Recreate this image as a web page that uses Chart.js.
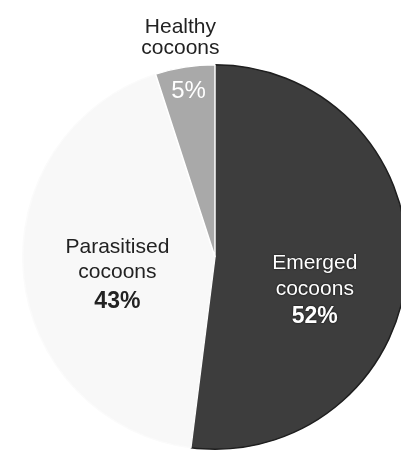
<!DOCTYPE html>
<html lang="en">
<head>
    <meta charset="UTF-8">
    <title>Cocoon fate</title>
    <script src="https://cdn.jsdelivr.net/npm/chart.js"></script>
    <style>
        html, body { margin: 0; padding: 0; background: #fff; overflow: hidden; width: 401px; height: 450px; }
        #wrap { position: absolute; left: 0; top: 0; width: 430px; height: 460px; }
    </style>
</head>
<body>
    <div id="wrap"><canvas id="chart" width="430" height="460"></canvas></div>
    <script>
        // data
        const categories = ['Emerged cocoons', 'Parasitised cocoons', 'Healthy cocoons'];
        const nameLines = [['Emerged', 'cocoons'], ['Parasitised', 'cocoons'], ['Healthy', 'cocoons']];
        const percents = [52, 43, 5];

        const sliceColors = ['#3d3d3d', '#f8f8f8', '#a9a9a9'];
        const sliceBorders = ['#1e1e1e', '#fbfbfb', '#ffffff'];

        // where each label sits: k = fraction of radius along the slice middle, dy = first baseline offset
        const labelLayout = [
            { k: 0.52, dy: 6, gap: 26, pctGap: 28, inside: true, color: '#ffffff' },
            { k: 0.51, dy: -13, gap: 25, pctGap: 30, inside: true, color: '#222222' },
            { k: 1.15, dy: -6, gap: 21, pctK: 0.88, pctDy: 8, inside: false, color: '#222222' }
        ];

        const labelPlugin = {
            id: 'sliceLabels',
            afterDatasetsDraw(chart) {
                const ctx = chart.ctx;
                const arcs = chart.getDatasetMeta(0).data;
                ctx.save();
                ctx.textAlign = 'center';
                ctx.textBaseline = 'alphabetic';
                arcs.forEach((arc, i) => {
                    const p = arc.getProps(['x', 'y', 'startAngle', 'endAngle', 'outerRadius'], true);
                    const mid = (p.startAngle + p.endAngle) / 2;
                    const L = labelLayout[i];
                    const ax = p.x + Math.cos(mid) * p.outerRadius * L.k;
                    const ay = p.y + Math.sin(mid) * p.outerRadius * L.k;
                    const pct = percents[i] + '%';
                    if (L.color === '#ffffff') {
                        ctx.shadowColor = 'rgba(0,0,0,0.9)';
                        ctx.shadowBlur = 2;
                    } else {
                        ctx.shadowColor = 'transparent';
                        ctx.shadowBlur = 0;
                    }
                    ctx.fillStyle = L.color;
                    ctx.font = '21px "Liberation Sans", Arial, sans-serif';
                    nameLines[i].forEach((t, j) => {
                        ctx.fillText(t, ax, ay + L.dy + j * L.gap);
                    });
                    if (L.inside) {
                        ctx.font = 'bold 23px "Liberation Sans", Arial, sans-serif';
                        ctx.fillText(pct, ax, ay + L.dy + L.gap + L.pctGap);
                    } else {
                        const px = p.x + Math.cos(mid) * p.outerRadius * L.pctK;
                        const py = p.y + Math.sin(mid) * p.outerRadius * L.pctK;
                        ctx.fillStyle = '#ffffff';
                        ctx.shadowColor = 'transparent';
                        ctx.font = '24px "Liberation Sans", Arial, sans-serif';
                        ctx.fillText(pct, px, py + L.pctDy);
                    }
                });
                ctx.restore();
            }
        };

        new Chart(document.getElementById('chart').getContext('2d'), {
            type: 'pie',
            data: {
                labels: categories,
                datasets: [{
                    data: percents,
                    backgroundColor: sliceColors,
                    borderColor: sliceBorders,
                    borderWidth: 1.5
                }]
            },
            options: {
                responsive: false,
                animation: false,
                layout: { padding: { left: 22, right: 22, top: 64, bottom: 10 } },
                plugins: {
                    legend: { display: false },
                    tooltip: { enabled: false }
                }
            },
            plugins: [labelPlugin]
        });
    </script>
</body>
</html>
